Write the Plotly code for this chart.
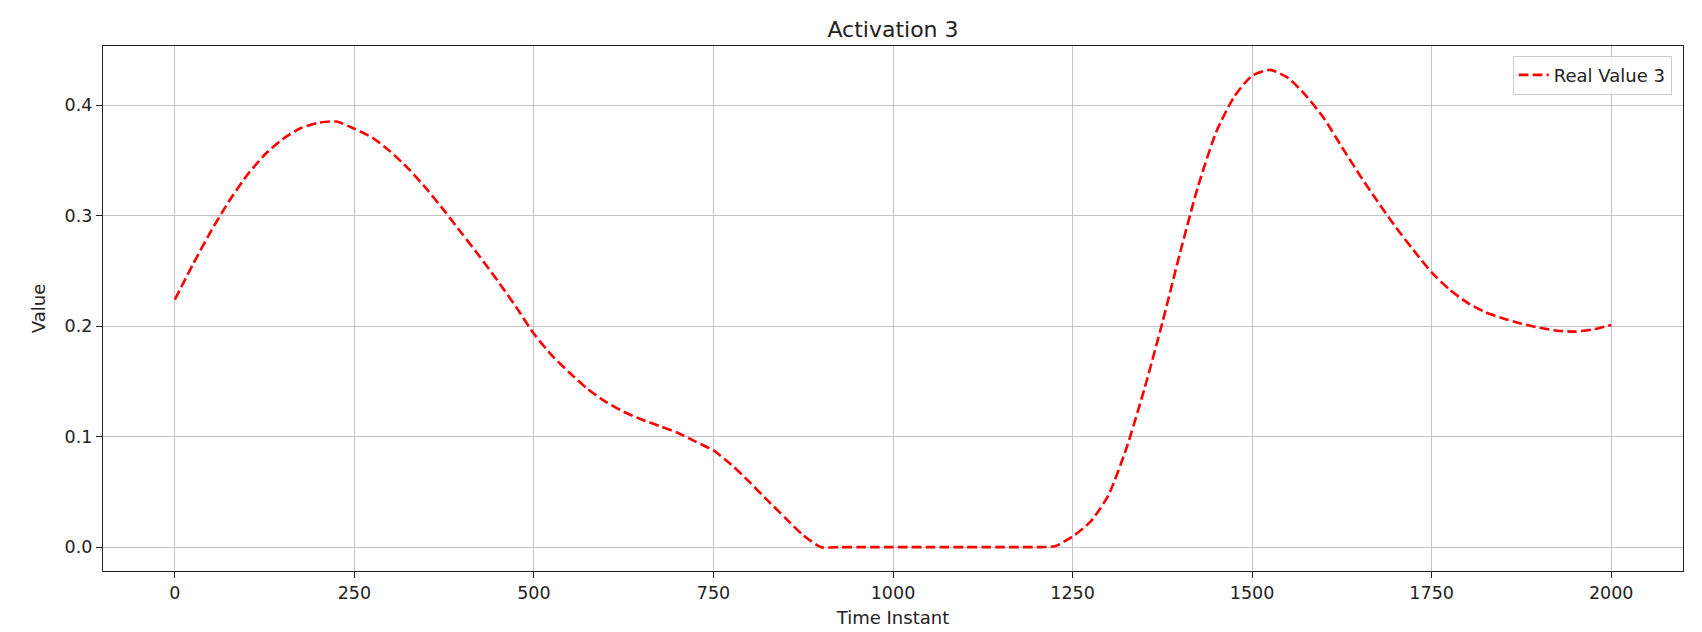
import plotly.graph_objects as go

# Time instants (every 25 units) and the read-off activation values
time_instant = list(range(0, 2001, 25))
real_value_3 = [
    0.224, 0.2555, 0.2855, 0.3125, 0.336, 0.355, 0.369, 0.379, 0.384, 0.385,   # 0-225
    0.3785, 0.3705, 0.358, 0.3425, 0.3245, 0.3045, 0.2835, 0.2625, 0.2405, 0.2175,  # 250-475
    0.193, 0.1735, 0.1575, 0.143, 0.1315, 0.1225, 0.1155, 0.1095, 0.1035, 0.0955,  # 500-725
    0.0875, 0.0745, 0.059, 0.0425, 0.0265, 0.0107, 0.0, 0.0, 0.0, 0.0,  # 750-975
    0.0, 0.0, 0.0, 0.0, 0.0, 0.0, 0.0, 0.0, 0.0, 0.0007,  # 1000-1225
    0.0096, 0.023, 0.047, 0.0895, 0.143, 0.203, 0.267, 0.327, 0.3755, 0.4075,  # 1250-1475
    0.4265, 0.4318, 0.4245, 0.4085, 0.388, 0.362, 0.3365, 0.3125, 0.2895, 0.2685,  # 1500-1725
    0.2485, 0.233, 0.221, 0.2125, 0.2068, 0.2022, 0.1985, 0.1958, 0.195, 0.197,  # 1750-1975
    0.201,  # 2000
]

x_ticks = [0, 250, 500, 750, 1000, 1250, 1500, 1750, 2000]
y_ticks = [0.0, 0.1, 0.2, 0.3, 0.4]
y_tick_text = ["0.0", "0.1", "0.2", "0.3", "0.4"]

title_text = "Activation 3"
x_title = "Time Instant"
y_title = "Value"
series_name = "Real Value 3"

FONT = "DejaVu Sans"

xmin, xmax = min(time_instant), max(time_instant)
ymin, ymax = min(real_value_3), max(real_value_3)
xpad = 0.05 * (xmax - xmin)
ypad = 0.05 * (ymax - ymin)

fig = go.Figure()
fig.add_trace(go.Scatter(
    x=time_instant, y=real_value_3, mode="lines", name=series_name,
    line=dict(color="#ff0000", width=2.6, dash="9.7px,4.2px", shape="spline", smoothing=0.6),
))

axis_common = dict(
    showline=True, linecolor="#222222", linewidth=1.3, mirror=True,
    showgrid=True, gridcolor="#c4c4c4", gridwidth=1.2,
    zeroline=False, ticks="outside", ticklen=6, tickwidth=1.2, tickcolor="#222222",
    tickfont=dict(family=FONT, size=17.5, color="#222222"),
    automargin=False,
)

fig.update_layout(
    width=1702, height=632,
    margin=dict(l=103, r=19, t=46, b=61),
    paper_bgcolor="white", plot_bgcolor="white",
    font=dict(family=FONT, color="#222222"),
    title=dict(text=title_text, x=0.5, xref="paper", xanchor="center",
               y=1 - 29 / 632, yref="container", yanchor="middle",
               font=dict(family=FONT, size=22, color="#222222")),
    xaxis=dict(range=[xmin - xpad, xmax + xpad], tickvals=x_ticks,
               title=dict(text=x_title, standoff=9, font=dict(family=FONT, size=18, color="#222222")),
               **axis_common),
    yaxis=dict(range=[ymin - ypad, ymax + ypad], tickvals=y_ticks, ticktext=y_tick_text,
               title=dict(text=y_title, standoff=14, font=dict(family=FONT, size=18, color="#222222")),
               **axis_common),
    showlegend=True,
    legend=dict(x=0.9929, y=0.9815, xanchor="right", yanchor="top",
                bgcolor="rgba(255,255,255,0.8)", bordercolor="#cccccc", borderwidth=1,
                font=dict(family=FONT, size=18, color="#222222")),
)

fig.write_html("out.html")
